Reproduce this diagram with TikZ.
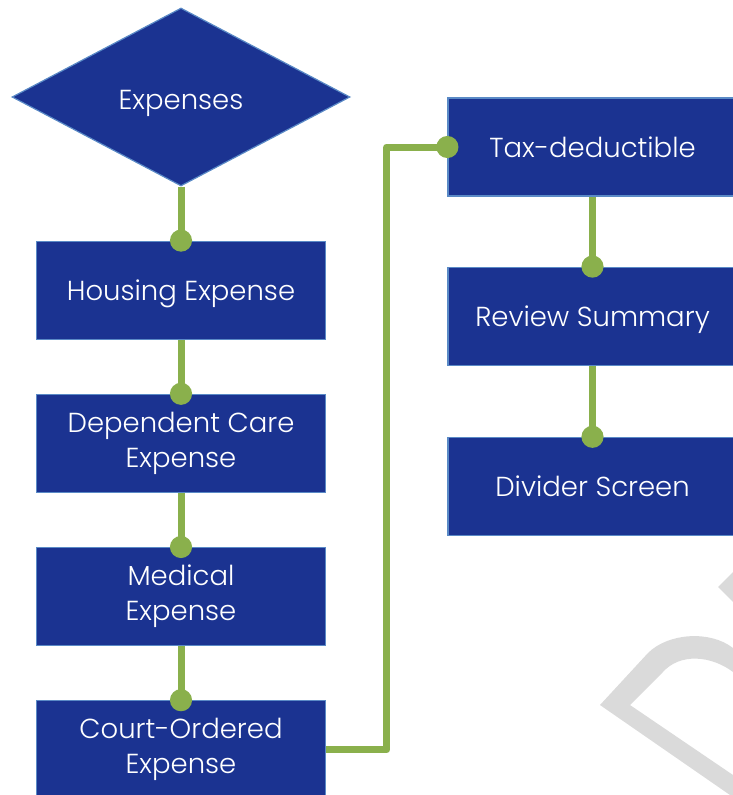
\documentclass[tikz,border=0pt]{standalone}
\usepackage{fontspec}
\setsansfont{Poppins Light}
\usepackage{tikz}
\usetikzlibrary{positioning,shapes.geometric,arrows.meta,calc}
\definecolor{navy}     {HTML}{1B3391}
\definecolor{edgeblue} {HTML}{5A8AC6}
\definecolor{leaf}     {HTML}{8AB04C}
\definecolor{stamp}    {HTML}{DADADA}
\tikzset{
  % --- nodes
  box/.style   = {draw=edgeblue, line width=1.2pt, fill=navy, text=white, align=center,
                  minimum width=289pt, minimum height=98pt, inner sep=0pt,
                  font=\sffamily\fontsize{27.5}{35}\selectfont},
  single/.style= {box, text height=24pt, text depth=4pt},
  choice/.style= {box, shape=diamond, minimum width=338pt, minimum height=178pt,
                  text height=26pt, text depth=2pt},
  % --- edges
  link/.style  = {line width=7pt, draw=leaf, line join=round,
                  -{Circle[length=22pt]}, shorten >=-11pt},
}
\begin{document}
\begin{tikzpicture}[x=1pt,y=-1pt]
  \useasboundingbox (0,0) rectangle (733,795);
  % faint stamp lettering
  \fill[stamp] (600,705) -- (648,653) .. controls (668,633) and (710,630) .. (733,648)
    -- (733,672) .. controls (712,656) and (680,652) .. (662,673)
    -- (630,705) -- (733,775) -- (733,795) -- (730,795) -- cycle;
  \fill[stamp] (718,587) -- (733,572) -- (733,602) -- cycle;

  \node[choice] (exp) at (181,97) {Expenses};
  \node[single, below=54pt of exp] (house) {Housing Expense};
  \node[box, below=54pt of house] (care) {Dependent Care\\Expense};
  \node[box, below=54pt of care] (med) {Medical\\Expense};
  \node[box, below=54pt of med] (court) {Court-Ordered\\Expense};

  \node[single] (tax) at (592.5,147) {Tax-deductible};
  \node[single, below=70pt of tax] (review) {Review Summary};
  \node[single, below=71pt of review] (divider) {Divider Screen};

  \draw[link] (exp.south) -- (house.north);
  \draw[link] (house) -- (care);
  \draw[link] (care) -- (med);
  \draw[link] (med) -- (court);
  \draw[link] (court.east) -| ($(court.east)!.5!(tax.west)$) |- (tax.west);
  \draw[link] (tax) -- (review);
  \draw[link] (review) -- (divider);
\end{tikzpicture}
\end{document}
